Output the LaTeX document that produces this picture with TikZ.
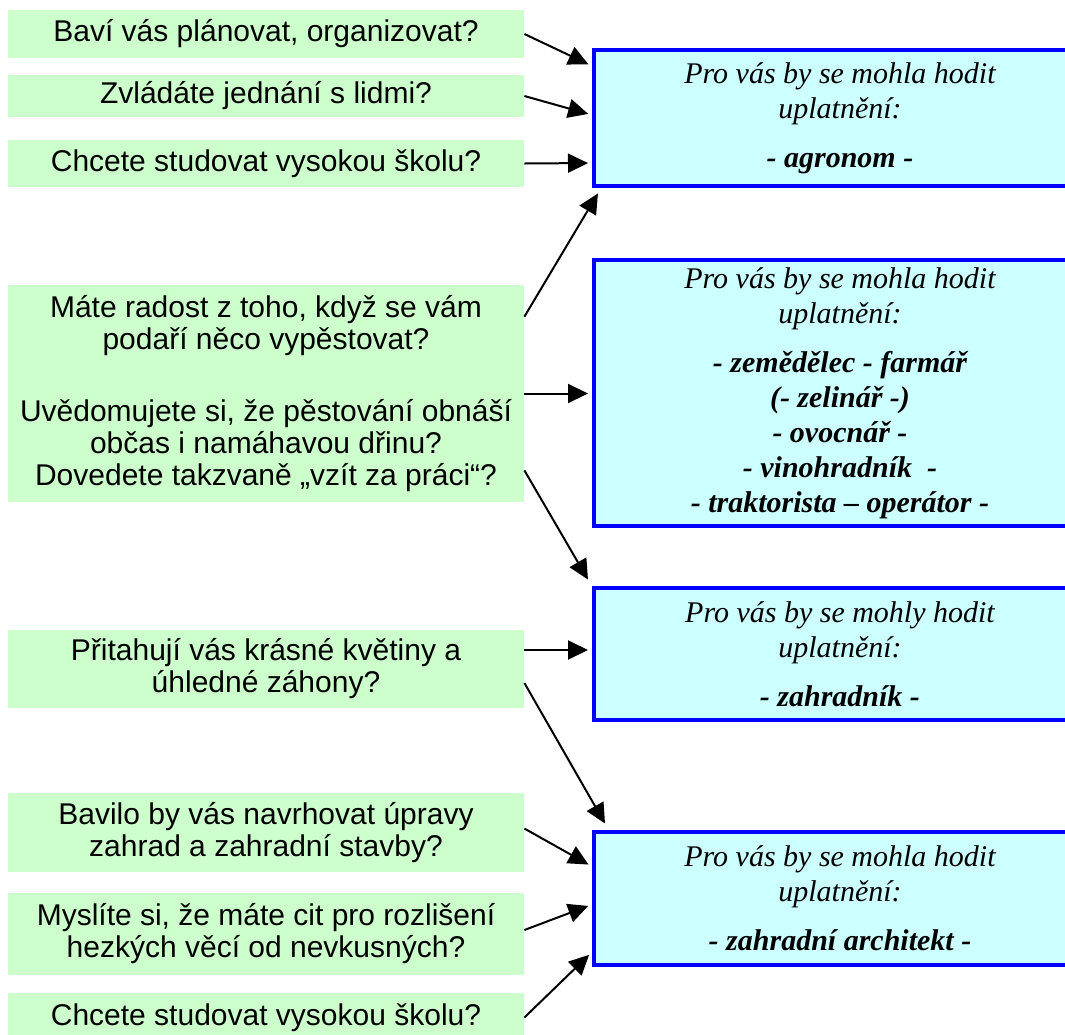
\documentclass[tikz,border=0pt]{standalone}
\usepackage{fontspec}
\setmainfont{Liberation Serif}
\newfontfamily\arialfont{Liberation Sans}
\usetikzlibrary{arrows.meta}
\definecolor{qGreen}{RGB}{204,255,204}
\definecolor{jobCyan}{RGB}{204,255,255}
\definecolor{jobBlue}{RGB}{0,0,255}

\begin{document}
\begin{tikzpicture}[x=0.5pt, y=-0.5pt,
  question/.style={fill=qGreen, minimum width=258pt, inner sep=2pt, align=center,
    font=\arialfont\fontsize{15}{16}\selectfont},
  job/.style={draw=jobBlue, line width=2pt, fill=jobCyan, minimum width=246pt,
    inner sep=2pt, align=center, font=\itshape\fontsize{15}{17.5}\selectfont},
  link/.style={-{Triangle[length=10pt,width=9.5pt]}, line width=1pt, shorten >=2pt}]
  \useasboundingbox (0,0) rectangle (1065,1034);
  \clip (0,0) rectangle (1065,1034);

  % Questions
  \node[question, minimum height=24pt] (q1) at (266,34) {Baví vás plánovat, organizovat?};
  \node[question, minimum height=21pt] (q2) at (266,96) {Zvládáte jednání s lidmi?};
  \node[question, minimum height=23.5pt] (q3) at (266,163.5) {Chcete studovat vysokou školu?};
  \node[question, minimum height=108.5pt] (q4) at (266,393.5) {Máte radost z toho, když se vám\\
    podaří něco vypěstovat?\\[20pt]
    Uvědomujete si, že pěstování obnáší\\
    občas i namáhavou dřinu?\\
    Dovedete takzvaně „vzít za práci“?};
  \node[question, minimum height=39pt] (q5) at (266,669) {Přitahují vás krásné květiny a\\ úhledné záhony?};
  \node[question, minimum height=39.5pt] (q6) at (266,832.5) {Bavilo by vás navrhovat úpravy\\ zahrad a zahradní stavby?};
  \node[question, minimum height=41pt] (q7) at (266,934) {Myslíte si, že máte cit pro rozlišení\\ hezkých věcí od nevkusných?};
  \node[question, minimum height=24.5pt] (q8) at (266,1017.5) {Chcete studovat vysokou školu?};

  % Jobs
  \node[job, minimum height=68pt] (a1) at (840,118) {Pro vás by se mohla hodit\\ uplatnění:\\[7pt]
    \bfseries - agronom -};
  \node[job, minimum height=133pt] (a2) at (840,393) {Pro vás by se mohla hodit\\ uplatnění:\\[7pt]
    \bfseries - zemědělec - farmář\\ \bfseries (- zelinář -)\\ \bfseries - ovocnář -\\
    \bfseries - vinohradník \ -\\ \bfseries - traktorista – operátor -};
  \node[job, minimum height=66pt] (a3) at (840,654) {Pro vás by se mohly hodit\\ uplatnění:\\[7pt]
    \bfseries - zahradník -};
  \node[job, minimum height=66.5pt] (a4) at (840,898.5) {Pro vás by se mohla hodit\\ uplatnění:\\[7pt]
    \bfseries - zahradní architekt -};

  % Links
  \draw[link] (q1.east) -- ([yshift=-9pt]a1.north west);
  \draw[link] (q2.east) -- ([yshift=1.5pt]a1.west);
  \draw[link] (q3.east) -- ([yshift=12.5pt]a1.south west);
  \draw[link] ([yshift=-16pt]q4.north east) -- ([xshift=4pt,yshift=-1pt]a1.south west);
  \draw[link] (q4.east) -- (q4.east -| a2.west);
  \draw[link] ([yshift=16pt]q4.south east) -- ([xshift=-1pt,yshift=1.5pt]a3.north west);
  \draw[link] ([yshift=9.5pt]q5.east) -- ([yshift=2pt]a3.west);
  \draw[link] ([yshift=-7pt]q5.east) -- ([xshift=7.5pt,yshift=1.5pt]a4.north west);
  \draw[link] ([yshift=2pt]q6.east) -- ([yshift=16pt]a4.west);
  \draw[link] ([yshift=2pt]q7.east) -- ([yshift=-3pt]a4.west);
  \draw[link] (q8.east) -- ([yshift=7.5pt]a4.south west);
\end{tikzpicture}
\end{document}
